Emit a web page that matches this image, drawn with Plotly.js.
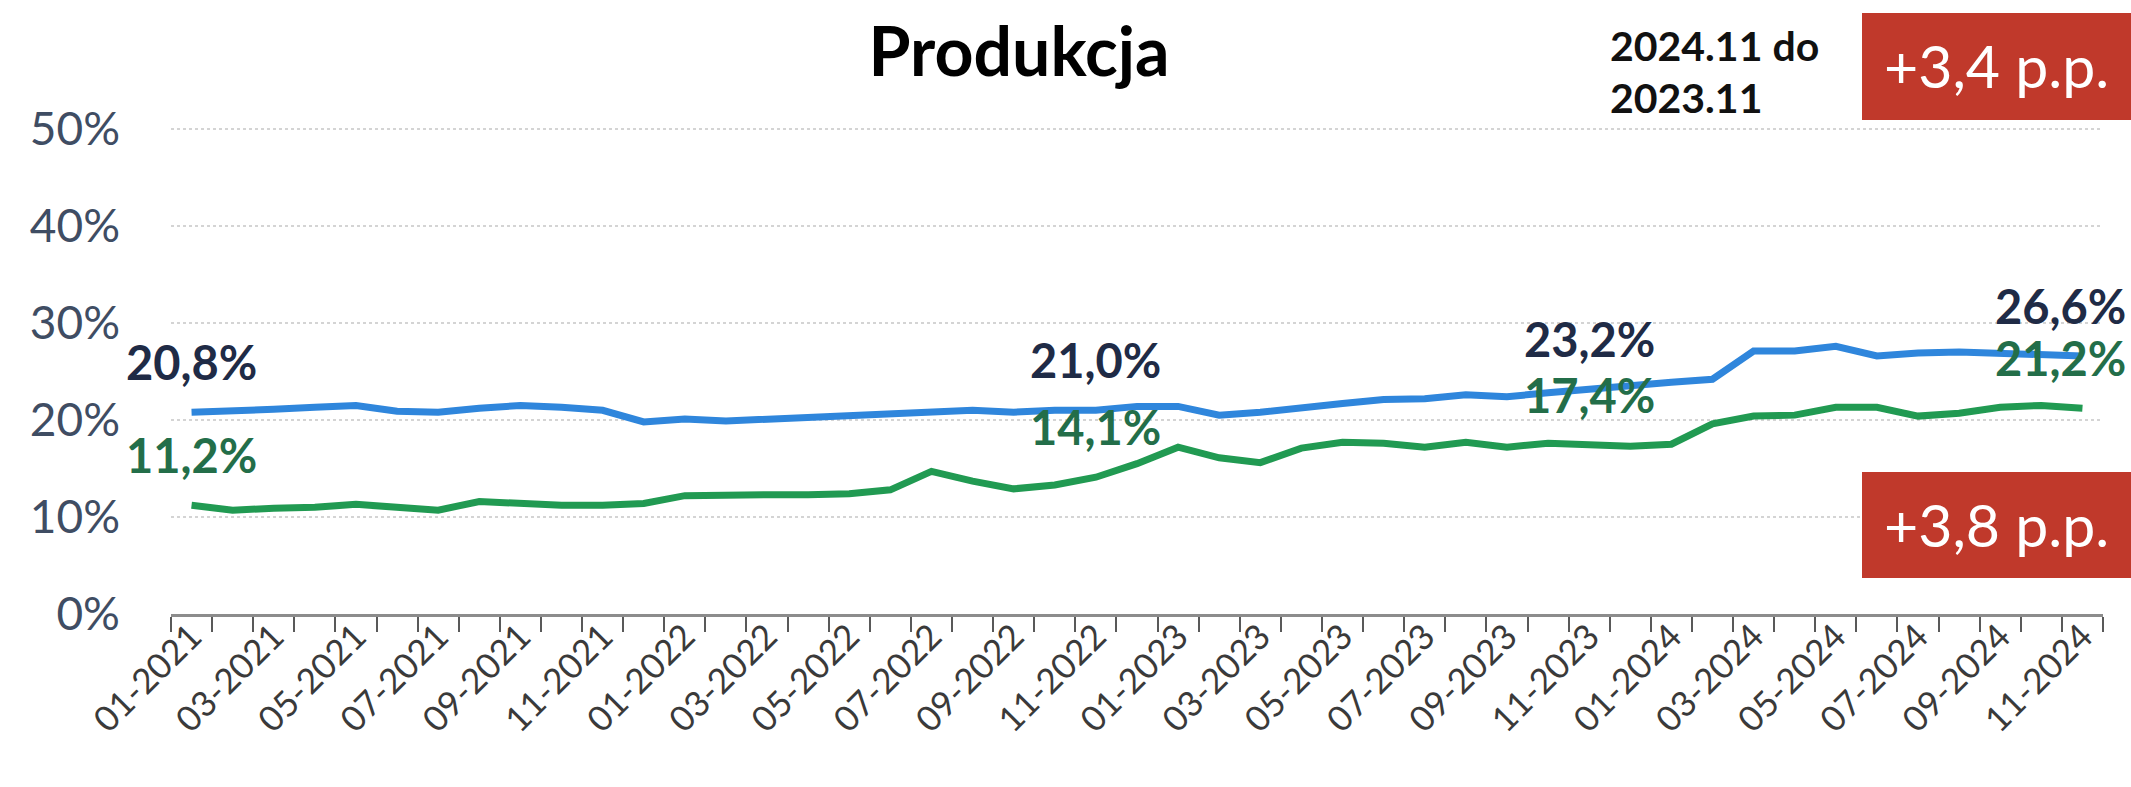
<!DOCTYPE html>
<html>
<head>
<meta charset="utf-8">
<script src="https://cdn.plot.ly/plotly-3.0.1.min.js"></script>
<style>
  html, body { margin: 0; padding: 0; background: #ffffff; }
  #chart { width: 2131px; height: 787px; }
</style>
</head>
<body>
<div id="chart"></div>
<script>
// ---- data ----
const months = [
  "01-2021","02-2021","03-2021","04-2021","05-2021","06-2021","07-2021","08-2021","09-2021","10-2021","11-2021","12-2021",
  "01-2022","02-2022","03-2022","04-2022","05-2022","06-2022","07-2022","08-2022","09-2022","10-2022","11-2022","12-2022",
  "01-2023","02-2023","03-2023","04-2023","05-2023","06-2023","07-2023","08-2023","09-2023","10-2023","11-2023","12-2023",
  "01-2024","02-2024","03-2024","04-2024","05-2024","06-2024","07-2024","08-2024","09-2024","10-2024","11-2024"
];
const blueSeries = [
  20.8, 20.9, 21.1, 21.3, 21.5, 20.9, 20.8, 21.2, 21.5, 21.3, 21.0,
  19.8, 20.1, 19.9, 20.1, 20.3, 20.5, 20.7, 20.8, 21.0, 20.8, 21.0, 21.0,
  21.4, 21.4, 20.5, 20.8, 21.3, 21.7, 22.1, 22.2, 22.6, 22.4, 22.8, 23.2,
  23.5, 23.9, 24.2, 27.1, 27.1, 27.6, 26.6, 26.9, 27.0, 26.9, 26.8, 26.6
];
const greenSeries = [
  11.2, 10.7, 10.9, 11.0, 11.3, 11.0, 10.7, 11.6, 11.4, 11.2, 11.2,
  11.4, 12.2, 12.3, 12.3, 12.3, 12.4, 12.8, 14.7, 13.7, 12.9, 13.3, 14.1,
  15.5, 17.2, 16.1, 15.6, 17.1, 17.7, 17.6, 17.2, 17.7, 17.2, 17.6, 17.4,
  17.3, 17.5, 19.6, 20.4, 20.5, 21.3, 21.3, 20.4, 20.7, 21.3, 21.5, 21.2
];
const labelIdx = [0, 22, 34, 46];
const yTicks = [0, 10, 20, 30, 40, 50];
const titleText = "Produkcja";
const compareText = ["2024.11 do", "2023.11"];
const deltaTexts = ["+3,4 p.p.", "+3,8 p.p."];

// ---- helpers ----
const FONT = "Lato, 'Open Sans', sans-serif";
const fmt = v => v.toFixed(1).replace('.', ',') + '%';
// plot area in pixels
const L = 171, R = 2103, T = 127, B = 614;
const px = x => (x - L) / (R - L);
const py = y => (B - y) / (B - T);

const traces = [
  { x: months, y: blueSeries, type: 'scatter', mode: 'lines',
    line: { color: '#2F86DC', width: 7 }, hoverinfo: 'skip' },
  { x: months, y: greenSeries, type: 'scatter', mode: 'lines',
    line: { color: '#219A52', width: 7 }, hoverinfo: 'skip' }
];

const annotations = [];
const xShift = [0, 0, 0, -22];
labelIdx.forEach((i, k) => {
  annotations.push({ x: months[i], y: blueSeries[i], xref: 'x', yref: 'y', text: '<b>' + fmt(blueSeries[i]) + '</b>',
    showarrow: false, yshift: 50, xshift: xShift[k], yanchor: 'middle',
    font: { family: FONT, size: 47, color: '#1F2B46' } });
  annotations.push({ x: months[i], y: greenSeries[i], xref: 'x', yref: 'y', text: '<b>' + fmt(greenSeries[i]) + '</b>',
    showarrow: false, yshift: 50, xshift: xShift[k], yanchor: 'middle',
    font: { family: FONT, size: 47, color: '#236E49' } });
});
// comparison text
annotations.push({ x: px(1608), y: py(45), xref: 'paper', yref: 'paper', xanchor: 'left', yanchor: 'middle',
  text: '<b>' + compareText[0] + '</b>', showarrow: false, font: { family: FONT, size: 41, color: '#111111' } });
annotations.push({ x: px(1608), y: py(97), xref: 'paper', yref: 'paper', xanchor: 'left', yanchor: 'middle',
  text: '<b>' + compareText[1] + '</b>', showarrow: false, font: { family: FONT, size: 41, color: '#111111' } });
// delta boxes text
annotations.push({ x: px(1996), y: py(66), xref: 'paper', yref: 'paper', xanchor: 'center', yanchor: 'middle',
  text: deltaTexts[0], showarrow: false, font: { family: FONT, size: 59, color: '#FFFFFF' } });
annotations.push({ x: px(1996), y: py(524), xref: 'paper', yref: 'paper', xanchor: 'center', yanchor: 'middle',
  text: deltaTexts[1], showarrow: false, font: { family: FONT, size: 59, color: '#FFFFFF' } });

const shapes = [
  { type: 'rect', xref: 'paper', yref: 'paper', x0: px(1862), x1: px(2131), y0: py(120), y1: py(13),
    fillcolor: '#C0392B', line: { width: 0 }, layer: 'above' },
  { type: 'rect', xref: 'paper', yref: 'paper', x0: px(1862), x1: px(2131), y0: py(578), y1: py(472),
    fillcolor: '#C0392B', line: { width: 0 }, layer: 'above' }
];

const layout = {
  width: 2131, height: 787,
  margin: { l: L, r: 2131 - R, t: T, b: 787 - B, pad: 0 },
  paper_bgcolor: '#ffffff', plot_bgcolor: '#ffffff',
  showlegend: false,
  title: { text: '<b>' + titleText + '</b>', x: 1019 / 2131, xref: 'container',
    xanchor: 'center', yref: 'container', y: 1 - 52 / 787, yanchor: 'middle',
    font: { family: FONT, size: 68, color: '#000000' } },
  xaxis: {
    type: 'category', categoryorder: 'array', categoryarray: months,
    range: [-0.5, months.length - 0.5], autorange: false,
    tickmode: 'array', tickvals: months, ticktext: months.map((m, i) => i % 2 === 0 ? m : ''),
    tickson: 'boundaries', ticks: 'outside', ticklen: 15, tickwidth: 2, tickcolor: '#595959',
    tickangle: -45, ticklabelstandoff: -15,
    tickfont: { family: FONT, size: 35, color: '#3A3A3A' },
    showline: true, linecolor: '#8C8C8C', linewidth: 3,
    showgrid: false, zeroline: false, fixedrange: true
  },
  yaxis: {
    range: [0, 50.2], autorange: false, tickmode: 'array', tickvals: yTicks, ticktext: yTicks.map(v => v + '%'),
    ticks: '', ticklabelstandoff: 50,
    tickfont: { family: FONT, size: 46, color: '#3F4D63' },
    showgrid: true, gridcolor: '#D4D4D4', gridwidth: 2, griddash: 'dot',
    zeroline: false, showline: false, fixedrange: true
  },
  annotations: annotations,
  shapes: shapes
};

Plotly.newPlot('chart', traces, layout, { displayModeBar: false, staticPlot: true });
</script>
</body>
</html>
